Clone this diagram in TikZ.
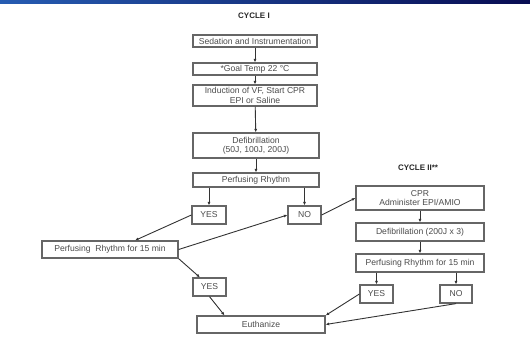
\documentclass[tikz,border=0pt]{standalone}
\usepackage{fontspec}
\setmainfont{Liberation Sans}
\usetikzlibrary{arrows.meta}
\definecolor{barleft}{RGB}{38,92,178}
\definecolor{barright}{RGB}{8,12,82}
\definecolor{boxline}{gray}{0.4}
\definecolor{boxtext}{gray}{0.3}

\begin{document}
\begin{tikzpicture}[x=1pt,y=-1pt,
  flowbox/.style={draw=boxline,line width=1.2pt,fill=white,inner sep=0pt,
    align=center,text=boxtext,font=\fontsize{8.6}{9.4}\selectfont},
  flowarr/.style={-{Latex[length=3.5pt,width=3pt]},line width=0.9pt,draw=black!80},
  cyclehead/.style={font=\bfseries\fontsize{8}{9}\selectfont,text=black!85}]
  \useasboundingbox (0,0) rectangle (530,343);
  % title bar
  \shade[left color=barleft,right color=barright] (0,0) rectangle (530,3);
  % cycle I
  \node[cyclehead] (cyc1) at (254,16) {CYCLE I};
  \node[flowbox,minimum width=124pt,minimum height=12pt] (sed) at (255,41) {Sedation and Instrumentation};
  \node[flowbox,minimum width=124pt,minimum height=12pt] (temp) at (255,69) {*Goal Temp 22 °C};
  \node[flowbox,minimum width=124pt,minimum height=21pt] (ind) at (255,95.5) {Induction of VF, Start CPR\\EPI or Saline};
  \node[flowbox,minimum width=126pt,minimum height=25pt] (def1) at (256,145.5) {Defibrillation\\(50J, 100J, 200J)};
  \node[flowbox,minimum width=126pt,minimum height=14pt] (perf1) at (256,180) {Perfusing Rhythm};
  \node[flowbox,minimum width=34pt,minimum height=18pt] (yes1) at (209,215) {YES};
  \node[flowbox,minimum width=33pt,minimum height=18pt] (no1) at (304.5,215) {NO};
  \node[flowbox,minimum width=136pt,minimum height=17pt] (perf15) at (110,249.5) {Perfusing\ \ Rhythm for 15 min};
  \node[flowbox,minimum width=33pt,minimum height=18pt] (yes2) at (209.5,287) {YES};
  \node[flowbox,minimum width=128pt,minimum height=17pt] (euth) at (261,324.5) {Euthanize};
  % cycle II
  \node[cyclehead] (cyc2) at (418,168) {CYCLE II**};
  \node[flowbox,minimum width=128pt,minimum height=24pt] (cpr) at (420,198) {CPR\\Administer EPI/AMIO};
  \node[flowbox,minimum width=128pt,minimum height=18pt] (def2) at (420,232) {Defibrillation (200J x 3)};
  \node[flowbox,minimum width=128pt,minimum height=18pt] (perf2) at (420,263) {Perfusing Rhythm for 15 min};
  \node[flowbox,minimum width=33pt,minimum height=18pt] (yes3) at (376.5,294) {YES};
  \node[flowbox,minimum width=32pt,minimum height=18pt] (no3) at (456,294) {NO};
  % connectors
  \draw[flowarr] (sed) -- (temp);
  \draw[flowarr] (temp) -- (ind);
  \draw[flowarr] (ind) -- (def1);
  \draw[flowarr] (def1) -- (perf1);
  \draw[flowarr] (yes1 |- perf1.south) -- (yes1.north);
  \draw[flowarr] (no1 |- perf1.south) -- (no1.north);
  \draw[flowarr] (yes1.west) -- (perf15.20);
  \draw[flowarr] (perf15.east) -- (no1.west);
  \draw[flowarr] (no1.east) -- (cpr.west);
  \draw[flowarr] (perf15.south east) -- (yes2.135);
  \draw[flowarr] (yes2.south) -- (euth.166);
  \draw[flowarr] (cpr) -- (def2);
  \draw[flowarr] (def2) -- (perf2);
  \draw[flowarr] (yes3 |- perf2.south) -- (yes3.north);
  \draw[flowarr] (no3 |- perf2.south) -- (no3.north);
  \draw[flowarr] (yes3.west) -- (euth.8);
  \draw[flowarr] (no3.south) -- (euth.east);
\end{tikzpicture}
\end{document}
